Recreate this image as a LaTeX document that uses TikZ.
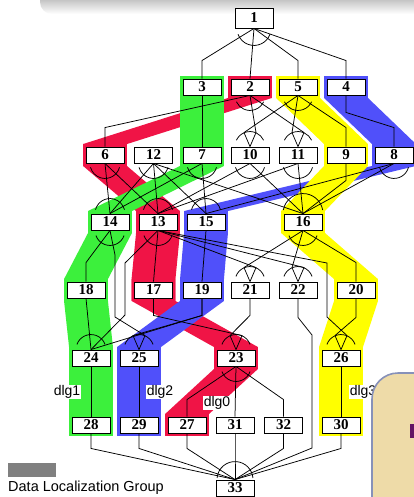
\documentclass[tikz,border=0pt]{standalone}
\usepackage{fontspec}
\setmainfont{Liberation Serif}
\newfontfamily\labelfont{Liberation Sans}
\usetikzlibrary{calc,backgrounds}

\definecolor{dlgred}{RGB}{240,20,70}
\definecolor{dlggreen}{RGB}{60,240,60}
\definecolor{dlgblue}{RGB}{80,80,250}
\definecolor{dlgyellow}{RGB}{255,255,0}
\definecolor{notebeige}{RGB}{238,219,168}
\definecolor{noteedge}{RGB}{135,145,185}
\definecolor{notemark}{RGB}{100,20,100}

% one step of a localization band, from task #2 down to task #3
\newcommand{\dlgstep}[3]{%
  \fill[#1]
    ($(#2.north west)+(-2.5,-2.5)$) -- ($(#2.north east)+(2.5,-2.5)$)
    -- ($(#2.south east)+(2.5,2.5)$) -- ($(#3.north east)+(2.5,-2.5)$)
    -- ($(#3.south east)+(2.5,2.5)$) -- ($(#3.south west)+(-2.5,2.5)$)
    -- ($(#3.north west)+(-2.5,-2.5)$) -- ($(#2.south west)+(-2.5,2.5)$)
    -- cycle;}
% and-arcs above / below a task
\newcommand{\inarc}[4]{\draw[dep] (#1.north) ++(#2:#4) arc[start angle=#2,end angle=#3,radius=#4];}
\newcommand{\outarc}[4]{\draw[dep] (#1.south) ++(#2:#4) arc[start angle=#2,end angle=#3,radius=#4];}

\begin{document}
\begin{tikzpicture}[
  x=1pt, y=-1pt,
  task/.style={
    draw=black,
    fill=white,
    line width=0.9pt,
    minimum width=38pt,
    minimum height=16pt,
    inner sep=0pt,
    font=\fontsize{15}{15}\selectfont\bfseries
  },
  dep/.style={
    line width=0.75pt,
    black
  },
  dlglabel/.style={
    fill=white,
    inner sep=0.6pt,
    font=\labelfont\fontsize{14}{14}\selectfont
  }
]
\useasboundingbox (0,0) rectangle (414,497);
\clip (0,0) rectangle (414,497);

% slide title shadow
\shade[top color=black!55, bottom color=white, rounded corners=12pt]
  (40,-20) rectangle (460,14);

% tasks
\node[task, minimum height=20pt] (t1) at (254,18) {1};

\node[task] (t3) at (202,87) {3};
\node[task] (t2) at (250,87) {2};
\node[task] (t5) at (298,87) {5};
\node[task] (t4) at (346,87) {4};

\node[task] (t6)  at (105,155) {6};
\node[task] (t12) at (153.5,155) {12};
\node[task] (t7)  at (202,155) {7};
\node[task] (t10) at (250,155) {10};
\node[task] (t11) at (298,155) {11};
\node[task] (t9)  at (346,155) {9};
\node[task] (t8)  at (394,155) {8};

\node[task] (t14) at (110,222) {14};
\node[task] (t13) at (158,222) {13};
\node[task] (t15) at (206,222) {15};
\node[task] (t16) at (303,222) {16};

\node[task] (t18) at (86,290) {18};
\node[task] (t17) at (153.5,290) {17};
\node[task] (t19) at (202,290) {19};
\node[task] (t21) at (250,290) {21};
\node[task] (t22) at (298,290) {22};
\node[task] (t20) at (356,290) {20};

\node[task] (t24) at (91,358) {24};
\node[task] (t25) at (139,358) {25};
\node[task] (t23) at (236,358) {23};
\node[task] (t26) at (341,358) {26};

\node[task] (t28) at (91,425) {28};
\node[task] (t29) at (139,425) {29};
\node[task] (t27) at (187,425) {27};
\node[task] (t31) at (235,425) {31};
\node[task] (t32) at (283.5,425) {32};
\node[task] (t30) at (341,425) {30};

\node[task, text depth=0pt] (t33) at (235,488) {33};

% localization bands
\begin{pgfonlayer}{background}
  \fill[white] (0,0) rectangle (414,497);
  \foreach \a/\b in {t2/t6,t6/t13,t13/t17,t17/t23,t23/t27}
    {\dlgstep{dlgred}{\a}{\b}}
  \foreach \a/\b in {t4/t8,t8/t15,t15/t19,t19/t25,t25/t29}
    {\dlgstep{dlgblue}{\a}{\b}}
  \foreach \a/\b in {t3/t7,t7/t14,t14/t18,t18/t24,t24/t28}
    {\dlgstep{dlggreen}{\a}{\b}}
  \foreach \a/\b in {t5/t9,t9/t16,t16/t20,t20/t26,t26/t30}
    {\dlgstep{dlgyellow}{\a}{\b}}
\end{pgfonlayer}

% start task
\draw[dep] (t1.south) -- ([yshift=18pt]t3.north) -- (t3.north);
\draw[dep] (t1.south) -- (t2.north);
\draw[dep] (t1.south) -- ([yshift=18pt]t5.north) -- (t5.north);
\draw[dep] (t1.south) -- ([yshift=18pt]t4.north) -- (t4.north);
\outarc{t1}{20}{160}{17}

% first loop
\draw[dep] (t3.south) -- (t7.north);
\draw[dep] (t2.south) -- ([yshift=19pt]t6.north) -- (t6.north);
\draw[dep] (t2.south) -- ([xshift=6pt,yshift=14pt]t10.north) -- (t10.north);
\draw[dep] (t2.south) -- ([xshift=6pt,yshift=14pt]t11.north) -- (t11.north);
\draw[dep] (t5.south) -- ([xshift=-6pt,yshift=14pt]t10.north) -- (t10.north);
\draw[dep] (t5.south) -- ([xshift=-6pt,yshift=14pt]t11.north) -- (t11.north);
\draw[dep] (t5.south) -- ([yshift=19pt]t9.north) -- (t9.north);
\draw[dep] (t4.south) -- ++(0,17) -- ([yshift=19pt]t8.north) -- (t8.north);
\outarc{t2}{25}{155}{15}
\outarc{t5}{25}{155}{15}
\inarc{t10}{205}{335}{15}
\inarc{t11}{205}{335}{15}

% second loop
\draw[dep] (t6.south) -- (t14.north);
\draw[dep] (t6.south) -- (t13.north);
\draw[dep] (t12.south) -- (t14.north);
\draw[dep] (t12.south) -- (t13.north);
\draw[dep] (t12.south) -- (t15.north);
\draw[dep] (t12.south) -- (t16.north);
\draw[dep] (t7.south) -- (t14.north);
\draw[dep] (t7.south) -- (t15.north);
\draw[dep] (t10.south) -- (t13.north);
\draw[dep] (t10.south) -- (t16.north);
\draw[dep] (t11.south) -- (t13.north);
\draw[dep] (t11.south) -- (t16.north);
\draw[dep] (t9.south) -- ++(0,17) -- (t16.north);
\draw[dep] (t8.south) -- (t15.north);
\draw[dep] (t8.south) -- (t16.north);
\foreach \t in {t6,t12,t7,t10,t11,t8}
  {\outarc{\t}{15}{165}{15}}
\foreach \t in {t14,t13,t15}
  {\inarc{\t}{195}{345}{15}}
\inarc{t16}{190}{350}{20}

% third loop
\draw[dep] (t14.south) -- ([yshift=19pt]t18.north) -- (t18.north);
\draw[dep] (t14.south) -- (115,255) -- (115,317) -- ([xshift=6pt,yshift=14pt]t25.north) -- (t25.north);
\draw[dep] (t13.south) -- (t17.north);
\draw[dep] (t13.south) -- (125,263) -- (125,315) -- (t24.north);
\draw[dep] (t13.south) -- ([xshift=6pt,yshift=14pt]t21.north) -- (t21.north);
\draw[dep] (t13.south) -- ([xshift=6pt,yshift=14pt]t22.north) -- (t22.north);
\draw[dep] (t13.south) -- (327,263) -- (327,317) -- ([xshift=6pt,yshift=14pt]t26.north) -- (t26.north);
\draw[dep] (t15.south) -- (t19.north);
\draw[dep] (t16.south) -- ([xshift=-6pt,yshift=14pt]t21.north) -- (t21.north);
\draw[dep] (t16.south) -- ([xshift=-6pt,yshift=14pt]t22.north) -- (t22.north);
\draw[dep] (t16.south) -- ([yshift=19pt]t20.north) -- (t20.north);
\foreach \t in {t14,t13,t16}
  {\outarc{\t}{20}{160}{15}}
\inarc{t21}{200}{340}{15}
\inarc{t22}{200}{340}{15}

% fourth loop
\draw[dep] (t18.south) -- (t24.north);
\draw[dep] (t19.south) -- ++(0,17) -- (t24.north);
\draw[dep] (t19.south) -- ++(0,17) -- ([xshift=-6pt,yshift=14pt]t25.north) -- (t25.north);
\draw[dep] (t17.south) -- ++(0,17) -- ([xshift=6pt,yshift=14pt]t23.north) -- (t23.north);
\draw[dep] (t21.south) -- ++(0,17) -- ([xshift=-6pt,yshift=14pt]t23.north) -- (t23.north);
\draw[dep] (t22.south) -- ++(0,19) -- (312,335) -- (312,448) -- (t33.north);
\draw[dep] (t20.south) -- ++(0,19) -- ([xshift=-6pt,yshift=14pt]t26.north) -- (t26.north);
\foreach \t in {t24,t25,t23,t26}
  {\inarc{\t}{200}{340}{15}}

% fifth loop
\draw[dep] (t24.south) -- (t28.north);
\draw[dep] (t25.south) -- (t29.north);
\draw[dep] (t26.south) -- (t30.north);
\draw[dep] (t23.south) -- (t31.north);
\draw[dep] (t23.south) -- ([yshift=17pt]t27.north) -- (t27.north);
\draw[dep] (t23.south) -- ([yshift=17pt]t32.north) -- (t32.north);
\outarc{t23}{20}{160}{15}

% end task
\foreach \t in {t28,t29,t27,t31,t32,t30}
  {\draw[dep] (\t.south) -- ++(0,15) -- (t33.north);}
\inarc{t33}{185}{355}{18}

% group labels
\node[dlglabel] (lab1) at (67,392) {dlg1};
\node[dlglabel] (lab2) at (160,392) {dlg2};
\node[dlglabel] (lab0) at (217,403) {dlg0};
\node[dlglabel] (lab3) at (363,392) {dlg3};

% legend
\fill[black!50] (8,463) rectangle (56,477);
\node[anchor=west, inner sep=0pt, font=\labelfont\fontsize{14.5}{15}\selectfont]
  (legend) at (8,488) {Data Localization Group};

% note box of the slide
\filldraw[fill=notebeige, draw=noteedge, line width=1.6pt, rounded corners=26pt]
  (372,373) rectangle (460,540);
\fill[notemark] (410,424) rectangle (420,438);

\end{tikzpicture}
\end{document}
